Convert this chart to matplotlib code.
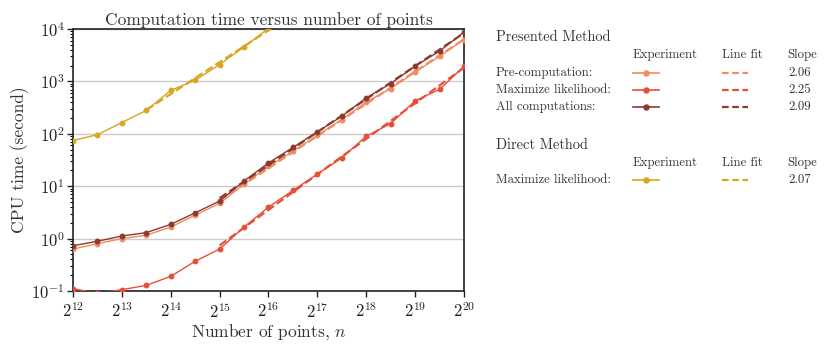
import numpy as np
import matplotlib
matplotlib.use("Agg")
import matplotlib.pyplot as plt
from matplotlib.lines import Line2D
from matplotlib.ticker import FixedLocator, LogLocator, NullFormatter

plt.rcParams["font.family"] = ["serif"]
plt.rcParams["font.serif"] = ["cmr10", "DejaVu Serif"]
plt.rcParams["mathtext.fontset"] = "cm"
plt.rcParams["axes.formatter.use_mathtext"] = True
plt.rcParams["axes.unicode_minus"] = False

# ---- data ----
log2_n = [12, 12.5, 13, 13.5, 14, 14.5, 15, 15.5, 16, 16.5, 17, 17.5, 18, 18.5, 19, 19.5, 20]
pre_computation = [0.63, 0.80, 1.0, 1.16, 1.66, 2.8, 4.7, 11.0, 24.0, 46.0, 94.0, 187.0,
                   405.0, 730.0, 1510.0, 3000.0, 6300.0]
maximize_likelihood = [0.111, 0.090, 0.106, 0.128, 0.19, 0.37, 0.63, 1.66, 4.0, 8.3, 17.0,
                       34.6, 90.0, 157.0, 427.0, 705.0, 1950.0]
all_computations = [0.73, 0.89, 1.12, 1.30, 1.87, 3.1, 5.2, 12.6, 27.8, 55.0, 109.0, 217.0,
                    484.0, 912.0, 1950.0, 3800.0, 8700.0]
direct_log2_n = [12, 12.5, 13, 13.5, 14, 14.5, 15, 15.5, 16]
direct_maximize = [74.5, 96.0, 164.0, 279.0, 675.0, 1050.0, 2100.0, 4530.0, 10400.0]

presented_fit_start = 15
direct_fit_start = 13.5

slopes_presented = ["2.06", "2.25", "2.09"]
slope_direct = "2.07"
row_labels = ["Pre-computation:", "Maximize likelihood:", "All computations:"]

c_pre = "#f28b5f"
c_max = "#e6503a"
c_all = "#8c3b2f"
c_dir = "#daa520"

fig = plt.figure(figsize=(8.31, 3.47), dpi=100)
ax = fig.add_axes([0.0878, 0.1614, 0.4706, 0.755])


def fit_line(xs, ys, start):
    xs = np.asarray(xs, float)
    ys = np.asarray(ys, float)
    m = xs >= start
    p = np.polyfit(xs[m] * np.log10(2), np.log10(ys[m]), 1)
    xf = xs[m]
    return 2.0 ** xf, 10 ** np.polyval(p, xf * np.log10(2))


n_vals = 2.0 ** np.asarray(log2_n)
n_dir = 2.0 ** np.asarray(direct_log2_n)

for ys, col in [(pre_computation, c_pre), (maximize_likelihood, c_max), (all_computations, c_all)]:
    ax.plot(n_vals, ys, "-o", color=col, lw=1.0, ms=3.2, zorder=3)
    fx, fy = fit_line(log2_n, ys, presented_fit_start)
    ax.plot(fx, fy, "--", color=col, lw=1.6, zorder=3)

ax.plot(n_dir, direct_maximize, "-o", color=c_dir, lw=1.0, ms=3.2, zorder=3)
fx, fy = fit_line(direct_log2_n, direct_maximize, direct_fit_start)
ax.plot(fx, fy, "--", color=c_dir, lw=1.6, zorder=3)

ax.set_xscale("log", base=2)
ax.set_yscale("log")
ax.set_xlim(2 ** 12, 2 ** 20)
ax.set_ylim(1e-1, 1e4)
xt = [2.0 ** k for k in range(12, 21)]
ax.xaxis.set_major_locator(FixedLocator(xt))
ax.set_xticklabels([r"$2^{%d}$" % k for k in range(12, 21)])
ax.xaxis.set_minor_locator(FixedLocator([]))
ax.yaxis.set_major_locator(LogLocator(base=10, numticks=10))
ax.yaxis.set_minor_locator(LogLocator(base=10, subs=np.arange(2, 10), numticks=20))
ax.yaxis.set_minor_formatter(NullFormatter())
ax.grid(True, axis="y", which="major", color="#cccccc", lw=1.0)
ax.set_axisbelow(True)
for s in ax.spines.values():
    s.set_linewidth(1.2)
    s.set_color("#222222")
ax.tick_params(axis="both", which="major", direction="out", length=4, width=1.0, labelsize=12, colors="#222222")
ax.tick_params(axis="y", which="major", pad=2)
ax.tick_params(axis="y", which="minor", direction="out", length=2.5, width=0.8)
ax.set_title("Computation time versus number of points", fontsize=12.5, pad=3, color="#333333")
ax.set_xlabel(r"Number of points, $n$", fontsize=12.5, color="#333333", labelpad=1)
ax.set_ylabel("CPU time (second)", fontsize=12.5, color="#333333", labelpad=2)

# ---- custom table legend ----
W, H = 831.0, 347.0


def fx_(px):
    return px / W


def fy_(py):
    return 1 - py / H


tc = "#333333"
fs = 9.2


def section(title, title_y, header_y, rows):
    fig.text(fx_(496), fy_(title_y), title, fontsize=10.4, color=tc, va="center", ha="left")
    fig.text(fx_(665), fy_(header_y), "Experiment", fontsize=fs, color=tc, va="center", ha="center")
    fig.text(fx_(742), fy_(header_y), "Line fit", fontsize=fs, color=tc, va="center", ha="center")
    fig.text(fx_(787), fy_(header_y), "Slope", fontsize=fs, color=tc, va="center", ha="left")
    for label, col, slope, ry in rows:
        fig.text(fx_(496), fy_(ry), label, fontsize=fs, color=tc, va="center", ha="left")
        fig.add_artist(Line2D([fx_(633), fx_(659)], [fy_(ry), fy_(ry)], color=col, lw=1.2,
                              transform=fig.transFigure))
        fig.add_artist(Line2D([fx_(646)], [fy_(ry)], color=col, marker="o", ms=3.6,
                              transform=fig.transFigure))
        fig.add_artist(Line2D([fx_(722), fx_(748)], [fy_(ry), fy_(ry)], color=col, lw=1.6,
                              ls=(0, (3, 1.6)), transform=fig.transFigure))
        fig.text(fx_(788), fy_(ry), slope, fontsize=fs, color=tc, va="center", ha="left")


section("Presented Method", 37, 55,
        [(row_labels[0], c_pre, slopes_presented[0], 73),
         (row_labels[1], c_max, slopes_presented[1], 90),
         (row_labels[2], c_all, slopes_presented[2], 107)])
section("Direct Method", 145, 163,
        [("Maximize likelihood:", c_dir, slope_direct, 180)])

fig.savefig("out.png", dpi=100)
